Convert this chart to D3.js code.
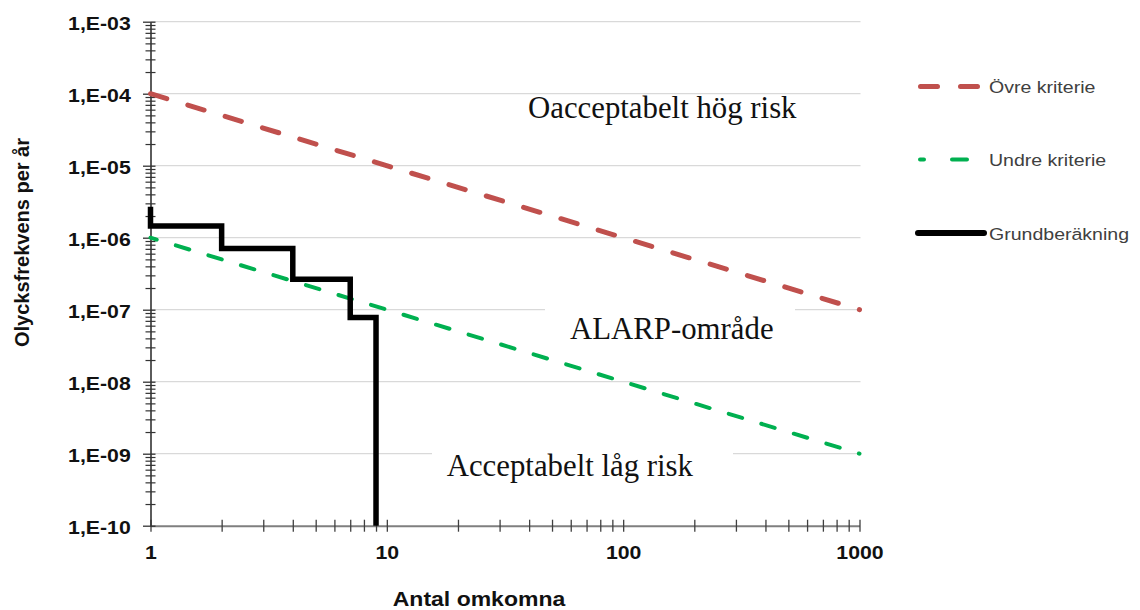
<!DOCTYPE html>
<html>
<head>
<meta charset="utf-8">
<script src="https://cdn.jsdelivr.net/npm/d3@7"></script>
<style>
  body { margin: 0; background: #fff; }
  svg { display: block; }
</style>
</head>
<body>
<div id="chart"></div>
<script>
// data
var critN = [1, 1000];
var upperF = [1e-4, 1e-7];
var lowerF = [1e-6, 1e-9];
var stepN = [1, 1, 2, 4, 7, 9];
var stepF = [2.7e-6, 1.45e-6, 7.1e-7, 2.65e-7, 7.8e-8, 1e-10];

var yTicks = [1e-10, 1e-9, 1e-8, 1e-7, 1e-6, 1e-5, 1e-4, 1e-3];
var yTickLabels = ["1,E-10", "1,E-09", "1,E-08", "1,E-07", "1,E-06", "1,E-05", "1,E-04", "1,E-03"];
var xTicks = [1, 10, 100, 1000];
var xTickLabels = ["1", "10", "100", "1000"];

var seriesNames = ["Övre kriterie", "Undre kriterie", "Grundberäkning"];
var zoneLabels = ["Oacceptabelt hög risk", "ALARP-område", "Acceptabelt låg risk"];

var width = 1140, height = 610;
var sx = 1.15; // the sans text in the original is stretched sideways

var svg = d3.select("#chart").append("svg")
  .attr("width", width)
  .attr("height", height);

var x = d3.scaleLog().domain([1, 1000]).range([150.5, 859.5]);
var y = d3.scaleLog().domain([1e-10, 1e-3]).range([525.7, 21.7]);

// minor tick values 2..9 per decade
var xMinor = [], yMinor = [];
[1, 10, 100].forEach(function(d){ for (var k = 2; k <= 9; k++) xMinor.push(d * k); });
yTicks.slice(0, -1).forEach(function(d){ for (var k = 2; k <= 9; k++) yMinor.push(d * k); });

// gridlines
svg.append("g").selectAll("line")
  .data(yTicks.slice(1))
  .enter().append("line")
  .attr("x1", x(1)).attr("x2", x(1000) + 1)
  .attr("y1", function(d){ return y(d); })
  .attr("y2", function(d){ return y(d); })
  .attr("stroke", "#d9d9d9")
  .attr("stroke-width", 1.2);

// white boxes behind two of the zone labels hide the gridline
svg.append("rect").attr("x", 545).attr("y", 298).attr("width", 250).attr("height", 52).attr("fill", "#fff");
svg.append("rect").attr("x", 432).attr("y", 440).attr("width", 301).attr("height", 50).attr("fill", "#fff");

// x axis
var xAxisG = svg.append("g")
  .attr("transform", "translate(0," + y(1e-10) + ")")
  .call(d3.axisBottom(x).tickValues(xTicks).tickSizeOuter(0)
    .tickFormat(function(d, i){ return xTickLabels[i]; }));
xAxisG.select(".domain").attr("stroke", "#7f7f7f").attr("stroke-width", 2);
xAxisG.selectAll(".tick line").attr("y1", -6).attr("y2", 6).attr("stroke", "#404040").attr("stroke-width", 1.3);
xAxisG.selectAll(".tick text")
  .attr("y", 33.3).attr("dy", null)
  .attr("transform", "scale(" + sx + ",1)")
  .style("font-family", "'Liberation Sans', Arial, sans-serif")
  .style("font-size", "18.5px").style("font-weight", "bold").attr("fill", "#111");

var xMinorG = svg.append("g")
  .attr("transform", "translate(0," + y(1e-10) + ")")
  .call(d3.axisBottom(x).tickValues(xMinor).tickFormat(""));
xMinorG.select(".domain").remove();
xMinorG.selectAll(".tick line").attr("y1", -6).attr("y2", 6).attr("stroke", "#404040").attr("stroke-width", 1.3);

// y axis
var yAxisG = svg.append("g")
  .attr("transform", "translate(" + x(1) + ",0)")
  .call(d3.axisLeft(y).tickValues(yTicks).tickSizeOuter(0)
    .tickFormat(function(d, i){ return yTickLabels[i]; }));
yAxisG.select(".domain").attr("stroke", "#333").attr("stroke-width", 1.6);
yAxisG.selectAll(".tick line").attr("x1", -7.5).attr("x2", 5).attr("stroke", "#333").attr("stroke-width", 1.3);
yAxisG.selectAll(".tick text")
  .attr("x", -17.2).attr("dy", "0.4em")
  .attr("transform", "scale(" + sx + ",1)")
  .style("font-family", "'Liberation Sans', Arial, sans-serif")
  .style("font-size", "18.5px").style("font-weight", "bold").attr("fill", "#111");

var yMinorG = svg.append("g")
  .attr("transform", "translate(" + x(1) + ",0)")
  .call(d3.axisLeft(y).tickValues(yMinor).tickFormat(""));
yMinorG.select(".domain").remove();
yMinorG.selectAll(".tick line").attr("x1", -5).attr("x2", 5).attr("stroke", "#333").attr("stroke-width", 1.2);

// axis titles
svg.append("text")
  .attr("transform", "translate(29,242.5) rotate(-90)")
  .attr("text-anchor", "middle")
  .style("font-family", "'Liberation Sans', Arial, sans-serif")
  .style("font-size", "20px").style("font-weight", "bold").attr("fill", "#111")
  .text("Olycksfrekvens per år");

svg.append("text")
  .attr("transform", "translate(479,606) scale(" + sx + ",1)")
  .attr("text-anchor", "middle")
  .style("font-family", "'Liberation Sans', Arial, sans-serif")
  .style("font-size", "20px").style("font-weight", "bold").attr("fill", "#111")
  .text("Antal omkomna");

// criteria lines
var critLine = d3.line()
  .x(function(d){ return x(d[0]); })
  .y(function(d){ return y(d[1]); });

svg.append("path")
  .datum(d3.zip(critN, upperF))
  .attr("d", critLine)
  .attr("fill", "none")
  .attr("stroke", "#c0504d")
  .attr("stroke-width", 5)
  .attr("stroke-linecap", "round")
  .attr("stroke-dasharray", "17,22");

svg.append("path")
  .datum(d3.zip(critN, lowerF))
  .attr("d", critLine)
  .attr("fill", "none")
  .attr("stroke", "#00b050")
  .attr("stroke-width", 4)
  .attr("stroke-linecap", "round")
  .attr("stroke-dasharray", "14,20")
  .attr("stroke-dashoffset", 7.5);

// base calculation, stepped
var stepLine = d3.line()
  .x(function(d){ return x(d[0]); })
  .y(function(d){ return y(d[1]); })
  .curve(d3.curveStepAfter);

svg.append("path")
  .datum(d3.zip(stepN, stepF))
  .attr("d", stepLine)
  .attr("fill", "none")
  .attr("stroke", "#000")
  .attr("stroke-width", 5.5)
  .attr("stroke-linejoin", "miter");

// zone labels
var zonePos = [[528, 118.3], [570, 339.3], [446.7, 476]];
svg.append("g").selectAll("text")
  .data(zoneLabels)
  .enter().append("text")
  .attr("x", function(d, i){ return zonePos[i][0]; })
  .attr("y", function(d, i){ return zonePos[i][1]; })
  .style("font-family", "'Liberation Serif', 'Times New Roman', serif")
  .style("font-size", "30.8px")
  .attr("fill", "#111")
  .text(function(d){ return d; });

// legend
var legendY = [86.5, 159.5, 233];
var legendStyle = [
  {color: "#c0504d", w: 5, dash: "17,23", x1: 920.5, x2: 978.5},
  {color: "#00b050", w: 4, dash: "4,28,15,50", x1: 920, x2: 967},
  {color: "#000", w: 6, dash: null, x1: 918, x2: 984}
];
var leg = svg.append("g").selectAll("g")
  .data(seriesNames)
  .enter().append("g")
  .attr("transform", function(d, i){ return "translate(0," + legendY[i] + ")"; });

leg.append("line")
  .attr("x1", function(d, i){ return legendStyle[i].x1; })
  .attr("x2", function(d, i){ return legendStyle[i].x2; })
  .attr("stroke", function(d, i){ return legendStyle[i].color; })
  .attr("stroke-width", function(d, i){ return legendStyle[i].w; })
  .attr("stroke-linecap", "round")
  .attr("stroke-dasharray", function(d, i){ return legendStyle[i].dash; });

leg.append("text")
  .attr("transform", "translate(989,6.5) scale(" + sx + ",1)")
  .style("font-family", "'Liberation Sans', Arial, sans-serif")
  .style("font-size", "17px")
  .attr("fill", "#404040")
  .text(function(d){ return d; });
</script>
</body>
</html>
